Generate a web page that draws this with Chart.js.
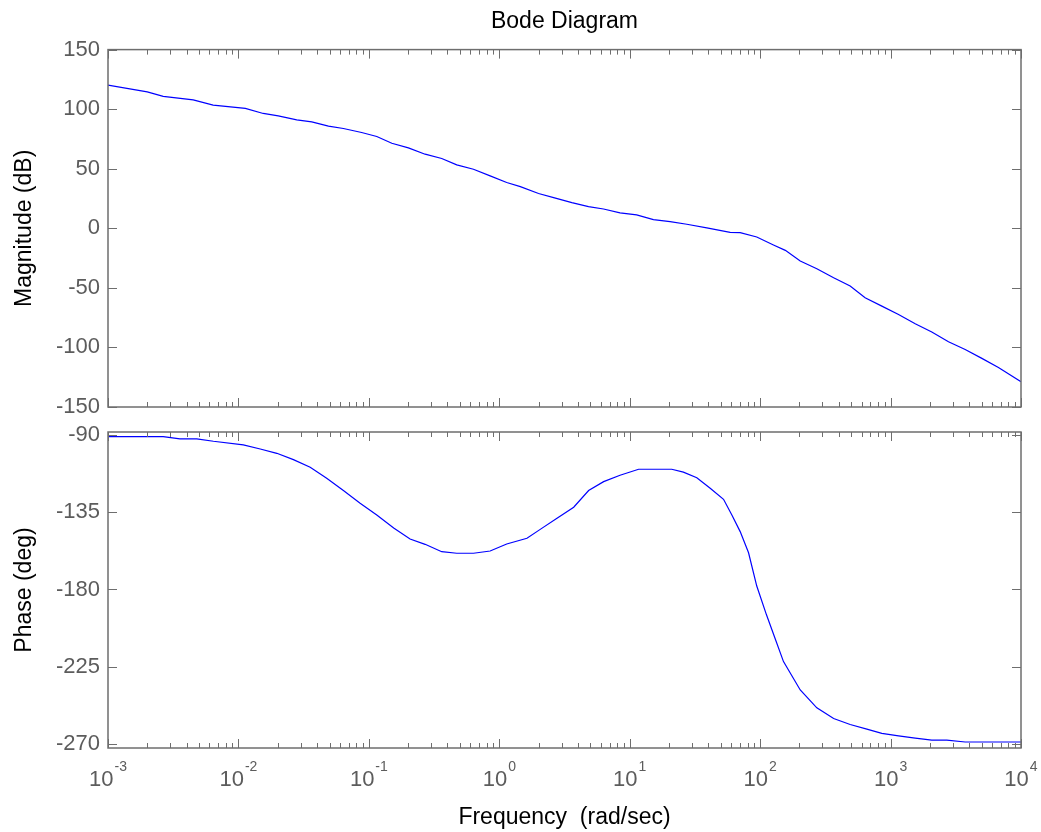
<!DOCTYPE html>
<html>
<head>
<meta charset="utf-8">
<title>Bode Diagram</title>
<script src="https://cdn.jsdelivr.net/npm/chart.js@4.4.1/dist/chart.umd.min.js"></script>
<style>
  html, body { margin: 0; padding: 0; background: #fff; }
  #wrap { position: relative; width: 1041px; height: 832px; overflow: hidden; }
  canvas { position: absolute; left: 0; }
  #magCanvas { top: 0; }
  #phaseCanvas { top: 420px; }
</style>
</head>
<body>
<div id="wrap">
  <canvas id="magCanvas" width="1041" height="420"></canvas>
  <canvas id="phaseCanvas" width="1041" height="412"></canvas>
</div>
<script>
// Values (frequency in rad/sec)
const magFreq = [0.001, 0.002, 0.00265, 0.0045, 0.0064, 0.0113, 0.0155, 0.0202, 0.028, 0.0365,
  0.049, 0.0638, 0.088, 0.115, 0.15, 0.201, 0.27, 0.362, 0.472, 0.634,
  0.851, 1.14, 1.45, 2.0, 2.61, 3.6, 4.83, 6.3, 8.43, 11.3,
  15.2, 20.4, 27.4, 39, 58.9, 70.3, 94.2, 126.5, 156, 203,
  272, 366, 490, 638, 857, 1151, 1545, 2070, 2780, 3733,
  5012, 6714, 10000];
const magDb = [120.2, 114.5, 110.7, 107.8, 103.4, 100.6, 96.4, 94.4, 91.0, 89.3,
  85.7, 83.8, 80.4, 77.1, 71.4, 67.5, 62.2, 58.6, 53.2, 49.6,
  44.0, 38.4, 35.0, 29.2, 25.8, 21.6, 18.2, 16.2, 12.9, 11.2,
  7.3, 5.6, 3.4, 0.3, -3.4, -3.6, -7.3, -14.0, -18.5, -27.5,
  -33.9, -41.5, -48.5, -58.3, -65.3, -72.3, -80.1, -87.1, -95.3, -101.7,
  -109.2, -116.8, -128.8];

const phaseFreq = [0.001, 0.00265, 0.00356, 0.00479, 0.00643, 0.0109, 0.0147, 0.0197, 0.0264, 0.0355,
  0.0475, 0.0638, 0.0857, 0.115, 0.155, 0.207, 0.27, 0.362, 0.472, 0.634,
  0.851, 1.14, 1.63, 2.06, 2.77, 3.72, 4.84, 6.31, 8.43, 11.7,
  21.0, 25.8, 32.7, 41.4, 52.4, 60.7, 70.3, 81.5, 94.2, 112,
  130, 151, 203, 272, 366, 490, 658, 857, 1151, 1545,
  2070, 2698, 3733, 10000];
const phaseDeg = [-91.0, -91.0, -92.3, -92.3, -93.7, -95.8, -98.2, -100.7, -104.4, -108.8,
  -115.2, -122.4, -129.8, -136.6, -144.2, -150.6, -153.7, -158.0, -158.9, -158.9,
  -157.6, -153.5, -150.2, -145.0, -138.5, -132.1, -122.4, -117.2, -113.5, -110.0,
  -110.0, -111.7, -114.9, -121.1, -127.5, -136.6, -146.3, -158.6, -178.0, -194.9,
  -208.4, -222.0, -238.5, -248.9, -255.1, -258.6, -261.3, -263.8, -265.2, -266.5,
  -267.7, -267.7, -268.8, -268.8];

const decadeTicks = [0.001, 0.01, 0.1, 1, 10, 100, 1000, 10000];
const decadeExp = ['-3', '-2', '-1', '0', '1', '2', '3', '4'];
const magTicks = [150, 100, 50, 0, -50, -100, -150];
const phaseTicks = [-90, -135, -180, -225, -270];

const AXIS_COLOR = '#6e6e6e';
const LABEL_COLOR = '#5c5c5c';
const LINE_COLOR = '#0000ff';

Chart.defaults.font.family = '"Liberation Sans", Arial, Helvetica, sans-serif';

// MATLAB style box with inward ticks on all four sides
const boxPlugin = {
  id: 'matlabBox',
  afterDraw(chart) {
    const { ctx, chartArea: a, scales } = chart;
    const xs = scales.x, ys = scales.y;
    ctx.save();
    ctx.strokeStyle = AXIS_COLOR;
    ctx.lineWidth = 1;
    const seg = (x1, y1, x2, y2) => {
      ctx.beginPath();
      ctx.moveTo(x1, y1);
      ctx.lineTo(x2, y2);
      ctx.stroke();
    };
    decadeTicks.forEach((d, i) => {
      const px = Math.round(xs.getPixelForValue(d)) + 0.5;
      seg(px, a.top, px, a.top + 9);
      seg(px, a.bottom, px, a.bottom - 9);
      if (i < decadeTicks.length - 1) {
        for (let k = 2; k <= 9; k++) {
          const mx = Math.round(xs.getPixelForValue(d * k)) + 0.5;
          seg(mx, a.top, mx, a.top + 5);
          seg(mx, a.bottom, mx, a.bottom - 5);
        }
      }
    });
    ys.ticks.forEach(t => {
      const py = Math.round(ys.getPixelForValue(t.value)) + 0.5;
      seg(a.left, py, a.left + 9, py);
      seg(a.right, py, a.right - 9, py);
    });
    ctx.lineWidth = 1.5;
    ctx.strokeRect(a.left, a.top, a.right - a.left, a.bottom - a.top);
    ctx.restore();
  }
};

// 10^n labels under the phase plot
const decadeLabelPlugin = {
  id: 'decadeLabels',
  afterDraw(chart) {
    const { ctx, chartArea: a, scales } = chart;
    const family = Chart.defaults.font.family;
    ctx.save();
    ctx.fillStyle = LABEL_COLOR;
    ctx.textBaseline = 'alphabetic';
    ctx.textAlign = 'left';
    decadeTicks.forEach((d, i) => {
      const px = scales.x.getPixelForValue(d);
      ctx.font = '22px ' + family;
      const wBase = ctx.measureText('10').width;
      ctx.font = '14px ' + family;
      const wExp = ctx.measureText(decadeExp[i]).width;
      const x0 = px - (wBase + 1 + wExp) / 2;
      ctx.font = '22px ' + family;
      ctx.fillText('10', x0, a.bottom + 38);
      ctx.font = '14px ' + family;
      ctx.fillText(decadeExp[i], x0 + wBase + 1, a.bottom + 23);
    });
    ctx.restore();
  }
};

function toPoints(xs, ys) {
  return xs.map((f, i) => ({ x: f, y: ys[i] }));
}

function yScale(min, max, tickList, label) {
  return {
    type: 'linear',
    min: min,
    max: max,
    afterBuildTicks: s => { s.ticks = tickList.map(v => ({ value: v })); },
    afterFit: s => {
      s.width = 108;
      // labels may overhang the plot box, as in the original figure
      s.paddingTop = 0;
      s.paddingBottom = 0;
    },
    grid: { display: false, drawTicks: false },
    border: { display: false },
    ticks: { color: LABEL_COLOR, font: { size: 22 }, padding: 8, autoSkip: false },
    title: { display: true, text: label, color: '#000', font: { size: 23 }, padding: { top: 11, bottom: 0 } }
  };
}

const magChart = new Chart(document.getElementById('magCanvas'), {
  type: 'line',
  data: {
    datasets: [{
      data: toPoints(magFreq, magDb),
      borderColor: LINE_COLOR,
      borderWidth: 1.2,
      pointRadius: 0,
      tension: 0,
      fill: false
    }]
  },
  options: {
    responsive: false,
    animation: false,
    layout: { padding: { left: 0, right: 20, top: 0, bottom: 0 }, autoPadding: false },
    plugins: {
      legend: { display: false },
      tooltip: { enabled: false },
      title: {
        display: true,
        fullSize: false,
        text: 'Bode Diagram',
        color: '#000',
        font: { size: 23, weight: 'normal' },
        padding: { top: 8, bottom: 14 }
      }
    },
    scales: {
      x: {
        type: 'logarithmic',
        min: 0.001,
        max: 10000,
        afterFit: s => { s.height = 13; },
        grid: { display: false, drawTicks: false },
        border: { display: false },
        ticks: { display: false }
      },
      y: yScale(-150, 150, magTicks, 'Magnitude (dB)')
    }
  },
  plugins: [boxPlugin]
});

const phaseChart = new Chart(document.getElementById('phaseCanvas'), {
  type: 'line',
  data: {
    datasets: [{
      data: toPoints(phaseFreq, phaseDeg),
      borderColor: LINE_COLOR,
      borderWidth: 1.2,
      pointRadius: 0,
      tension: 0,
      fill: false
    }]
  },
  options: {
    responsive: false,
    animation: false,
    layout: { padding: { left: 0, right: 20, top: 12, bottom: 0 }, autoPadding: false },
    plugins: {
      legend: { display: false },
      tooltip: { enabled: false }
    },
    scales: {
      x: {
        type: 'logarithmic',
        min: 0.001,
        max: 10000,
        afterFit: s => { s.height = 84; },
        grid: { display: false, drawTicks: false },
        border: { display: false },
        ticks: { display: false },
        title: {
          display: true,
          text: 'Frequency  (rad/sec)',
          color: '#000',
          font: { size: 23 },
          padding: { top: 0, bottom: 1 }
        }
      },
      y: yScale(-272.3, -88.3, phaseTicks, 'Phase (deg)')
    }
  },
  plugins: [boxPlugin, decadeLabelPlugin]
});
</script>
</body>
</html>
